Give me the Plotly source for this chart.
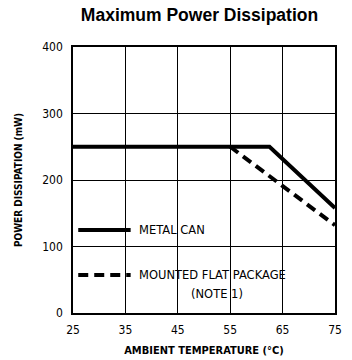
import plotly.graph_objects as go

# Data
temp_metal = [25, 62.5, 75]
power_metal = [250, 250, 158]
temp_flat = [55, 75]
power_flat = [250, 132]
x_ticks = [25, 35, 45, 55, 65, 75]
y_ticks = [0, 100, 200, 300, 400]
legend_x = [26, 36]
legend_metal_y = [125, 125]
legend_flat_y = [57, 57]

narrow = "DejaVu Sans Condensed, Liberation Sans Narrow, sans-serif"
wide = "DejaVu Sans, sans-serif"

fig = go.Figure()
fig.add_trace(go.Scatter(x=temp_flat, y=power_flat, mode="lines",
                         line=dict(color="black", width=4, dash="10px,6px"), showlegend=False))
fig.add_trace(go.Scatter(x=temp_metal, y=power_metal, mode="lines",
                         line=dict(color="black", width=4), showlegend=False))
fig.add_trace(go.Scatter(x=legend_x, y=legend_metal_y, mode="lines",
                         line=dict(color="black", width=4), showlegend=False))
fig.add_trace(go.Scatter(x=legend_x, y=legend_flat_y, mode="lines",
                         line=dict(color="black", width=4, dash="10px,6px"), showlegend=False))

fig.add_annotation(x=37.3, y=125, text="METAL CAN", showarrow=False, xanchor="left",
                   font=dict(family=wide, size=11.5, color="black"))
fig.add_annotation(x=37.3, y=57, text="MOUNTED FLAT PACKAGE", showarrow=False, xanchor="left",
                   font=dict(family=wide, size=11.5, color="black"))
fig.add_annotation(x=52.5, y=29, text="(NOTE 1)", showarrow=False, xanchor="center",
                   font=dict(family=wide, size=11.5, color="black"))

fig.update_layout(
    width=352, height=360,
    margin=dict(l=73, r=17, t=47, b=47, autoexpand=False),
    paper_bgcolor="white", plot_bgcolor="white",
    title=dict(text="<b>Maximum Power Dissipation</b>", x=199.5 / 352, xanchor="center",
               y=1 - 15 / 360, yanchor="middle",
               font=dict(family="Liberation Sans, Arial, sans-serif", size=17.5, color="black")),
    xaxis=dict(range=[25, 75], tickvals=x_ticks, ticks="", showgrid=True, gridcolor="black",
               gridwidth=1, showline=True, linecolor="black", linewidth=1.5, mirror=True,
               zeroline=False, ticklabelstandoff=5, automargin=False,
               tickfont=dict(family=narrow, size=12, color="black"),
               title=dict(text="<b>AMBIENT TEMPERATURE (°C)</b>", standoff=10,
                          font=dict(family=narrow, size=11, color="black"))),
    yaxis=dict(range=[0, 400], tickvals=y_ticks, ticks="", showgrid=True, gridcolor="black",
               gridwidth=1, showline=True, linecolor="black", linewidth=1.5, mirror=True,
               zeroline=False, ticklabelstandoff=6, automargin=False,
               tickfont=dict(family=narrow, size=12, color="black"),
               title=dict(text="<b>POWER DISSIPATION (mW)</b>", standoff=18,
                          font=dict(family=narrow, size=10, color="black"))),
)

fig.write_html("out.html", config={"displayModeBar": False},
               post_script="document.body.style.margin='0';")
